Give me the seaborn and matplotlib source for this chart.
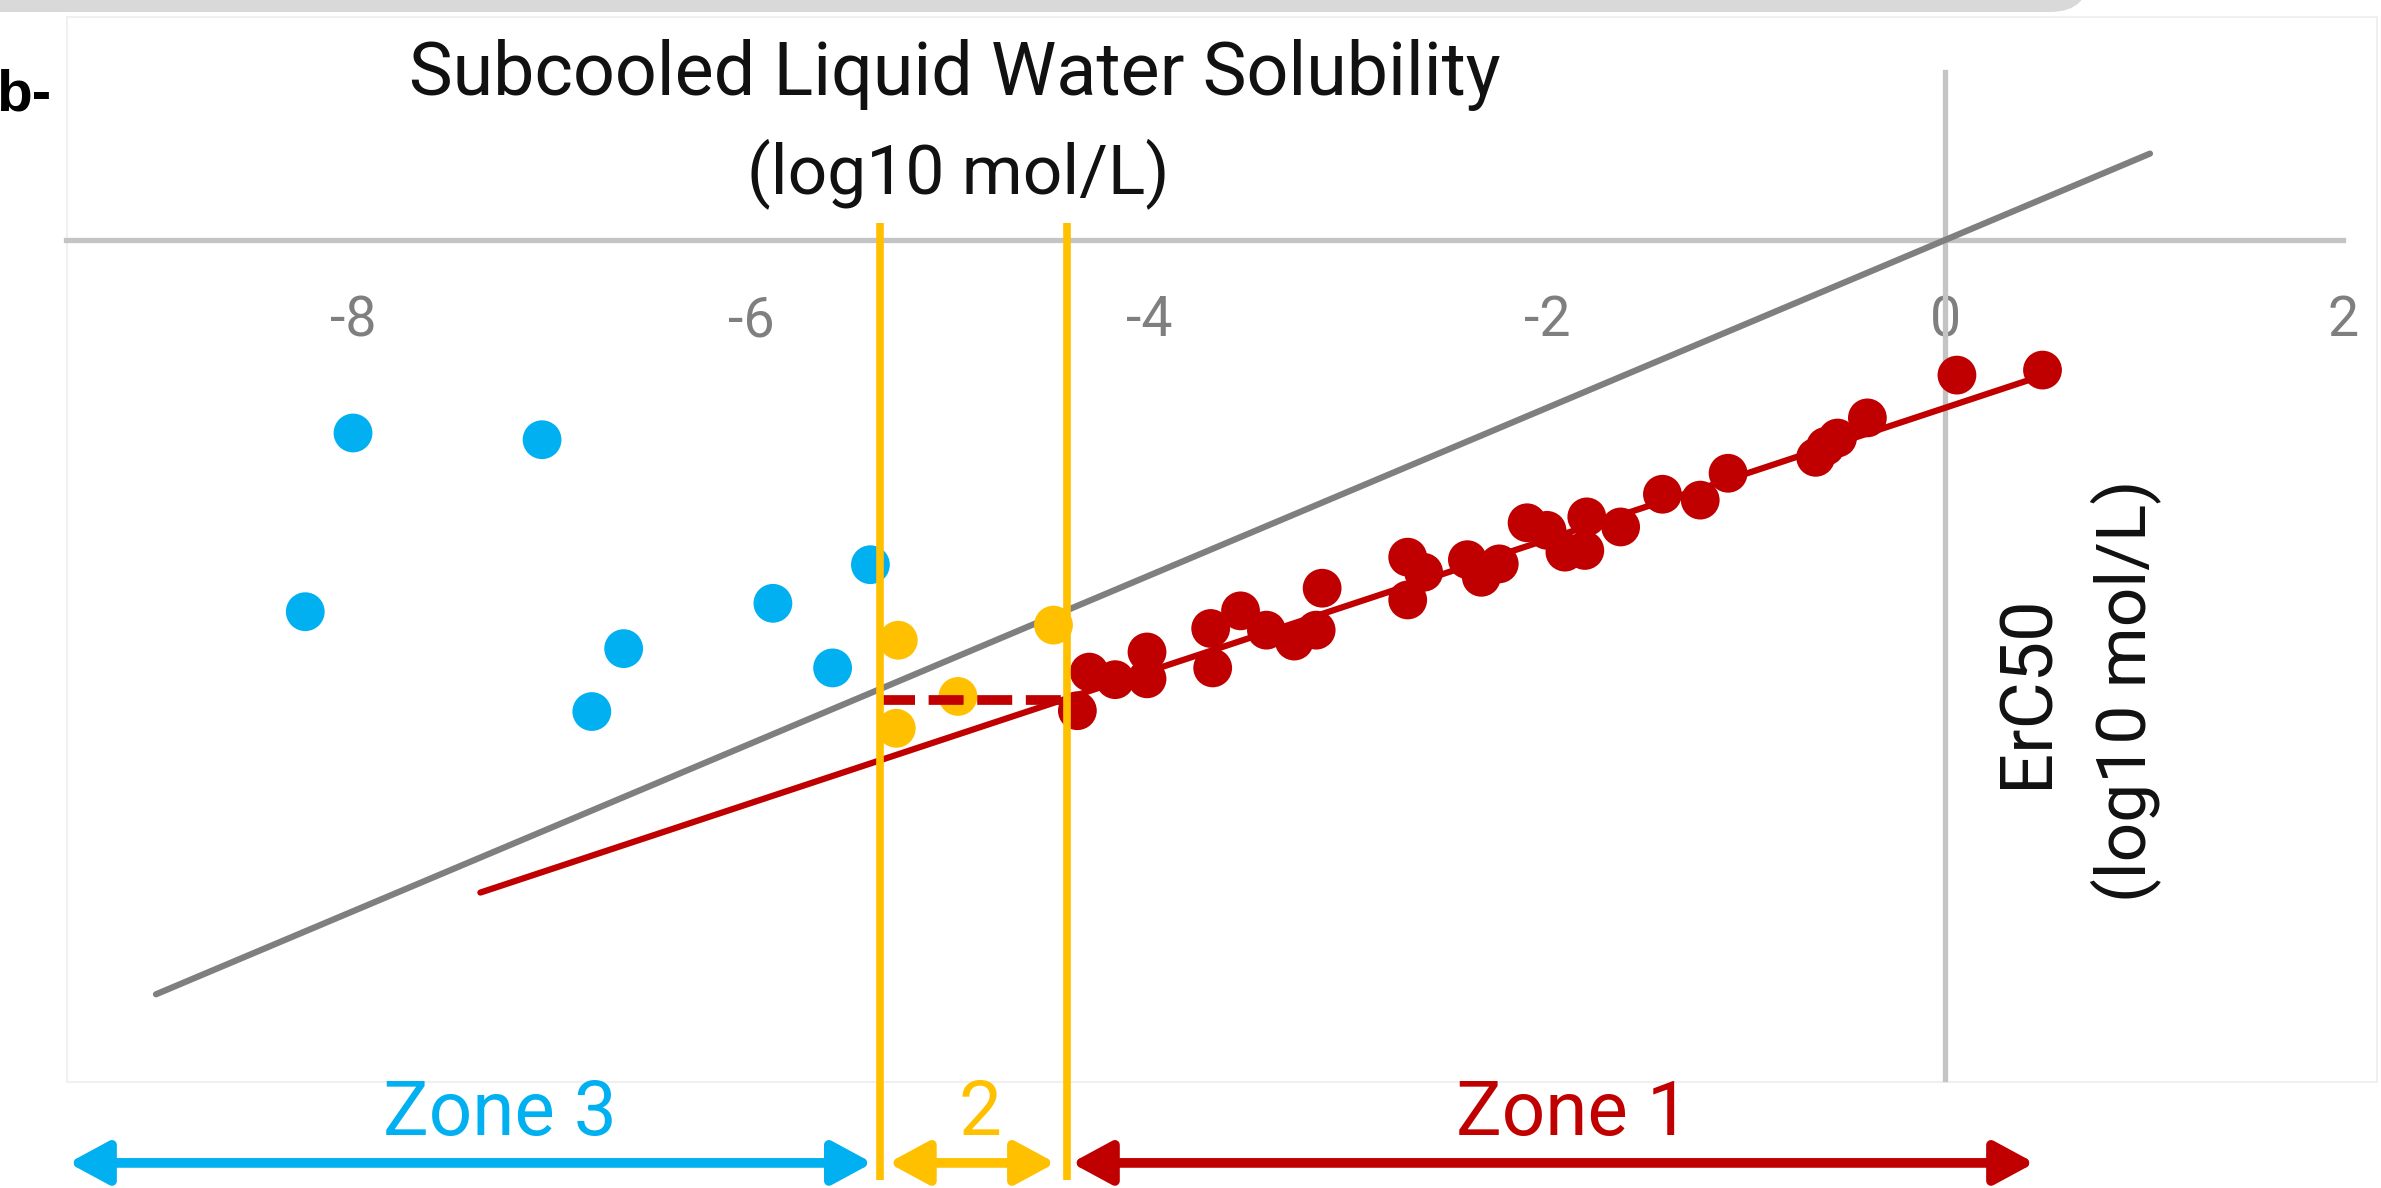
import numpy as np
import pandas as pd
import matplotlib
matplotlib.use("Agg")
import matplotlib.pyplot as plt
from matplotlib.patches import FancyBboxPatch, Rectangle
from matplotlib.transforms import IdentityTransform
import seaborn as sns

# Data (log10 mol/L)
zone3_x = [-8.00, -7.05, -8.24, -5.40, -5.89, -6.64, -5.59, -6.80]
zone3_y = [-2.30, -2.38, -4.43, -3.87, -4.33, -4.87, -5.10, -5.62]

zone2_x = [-5.26, -4.48, -4.96, -5.27]
zone2_y = [-4.77, -4.59, -5.44, -5.82]

zone1_x = [-4.36, -4.30, -4.17, -4.01, -4.01, -3.69, -3.68, -3.54, -3.41, -3.27,
           -3.16, -3.13, -2.70, -2.70, -2.62, -2.40, -2.33, -2.24, -2.10, -2.00,
           -1.91, -1.81, -1.80, -1.63, -1.42, -1.23, -1.09, -0.65, -0.60, -0.54,
           -0.39, 0.06, 0.49]
zone1_y = [-5.61, -5.15, -5.24, -4.91, -5.23, -4.63, -5.10, -4.42, -4.65, -4.78,
           -4.65, -4.15, -3.78, -4.29, -3.96, -3.81, -4.02, -3.86, -3.37, -3.46,
           -3.72, -3.70, -3.30, -3.42, -3.03, -3.10, -2.78, -2.59, -2.46, -2.36,
           -2.12, -1.61, -1.55]

# regression of zone 1 and the 1:1 line
fit_slope = 0.785
fit_intercept = -2.0
fit_x_range = [-7.36, 0.46]
one_to_one_range = [-8.99, 1.03]

# zone limits and the solubility cut-off
zone_bounds = [-5.35, -4.41]
cutoff_x = [-5.35, -4.34]
cutoff_y = -5.48

x_ticks = [-8, -6, -4, -2, 0, 2]
x_tick_labels = ["-8", "-6", "-4", "-2", "0", "2"]

zone_names = ["Zone 3", "2", "Zone 1"]
zone_colors = ["#00B0F0", "#FFC000", "#C00000"]
zone_arrow_x = [(-9.43, -5.39), (-5.31, -4.47), (-4.39, 0.45)]
zone_label_x = [-7.26, -4.85, -1.87]

sns.set_theme(style="white")
plt.rcParams["font.family"] = ["Roboto", "DejaVu Sans"]

fig = plt.figure(figsize=(23.81, 11.88), dpi=100)
ax = fig.add_axes([0, 0, 1, 1])
ax.set_xlim(-9.774, 2.191)
ax.set_ylim(-11.299, 2.861)

pts = pd.DataFrame({
    "x": zone3_x + zone2_x + zone1_x,
    "y": zone3_y + zone2_y + zone1_y,
    "zone": ["3"] * len(zone3_x) + ["2"] * len(zone2_x) + ["1"] * len(zone1_x),
})
palette = {"3": zone_colors[0], "2": zone_colors[1], "1": zone_colors[2]}

# lines
one = np.array(one_to_one_range)
sns.lineplot(x=one, y=one, color="#7F7F7F", lw=4.5, ax=ax, zorder=2)
fx = np.array(fit_x_range)
sns.lineplot(x=fx, y=fit_slope * fx + fit_intercept, color="#C00000", lw=4.5, ax=ax, zorder=2)

sns.scatterplot(data=pts, x="x", y="y", hue="zone", palette=palette, s=780,
                linewidth=0, legend=False, ax=ax, zorder=3)

ax.plot(cutoff_x, [cutoff_y, cutoff_y], color="#C00000", lw=7,
        dashes=(3.6, 1.4), dash_capstyle="butt", zorder=4)
ax.vlines(zone_bounds, -11.2, 0.2, color="#FFC000", lw=5.5, zorder=5)

# axes crossing at the origin
for side in ["top", "right"]:
    ax.spines[side].set_visible(False)
ax.spines["bottom"].set_position(("data", 0))
ax.spines["left"].set_position(("data", 0))
ax.spines["bottom"].set_bounds(-9.44, 2.0)
ax.spines["left"].set_bounds(-10, 2)
for side in ["bottom", "left"]:
    ax.spines[side].set_color("#C4C4C4")
    ax.spines[side].set_linewidth(3.8)
    ax.spines[side].set_zorder(1)
ax.set_xticks(x_ticks, x_tick_labels)
ax.set_yticks([])
ax.tick_params(axis="x", length=0, pad=39, labelsize=40, labelcolor="#7F7F7F")
ax.set_xlabel("")
ax.set_ylabel("")
ax.grid(False)

# titles
ax.text(-4.975, 1.728, "Subcooled Liquid Water Solubility", ha="center", va="baseline",
        fontsize=53, color="#111111")
ax.text(-4.96, 0.56, "(log10 mol/L)", ha="center", va="baseline", fontsize=50, color="#111111")
ax.text(0.417, -5.376, "ErC50", rotation=90, ha="center", va="center", fontsize=52, color="#111111")
ax.text(0.905, -5.376, "(log10 mol/L)", rotation=90, ha="center", va="center", fontsize=50,
        color="#111111")
ax.text(-9.518, 1.549, "b-", ha="right", va="baseline", fontsize=42, fontweight="bold",
        family=["Liberation Sans", "DejaVu Sans"], color="black")

# zone arrows below the chart
arrow_y = -11.0
for (x0, x1), c, name, lx in zip(zone_arrow_x, zone_colors, zone_names, zone_label_x):
    ax.annotate("", xy=(x1, arrow_y), xytext=(x0, arrow_y),
                arrowprops=dict(arrowstyle="<|-|>,head_length=24,head_width=13",
                                mutation_scale=1, color=c, lw=7, shrinkA=0, shrinkB=0))
    ax.text(lx, -10.667, name, color=c, fontsize=55, ha="center", va="baseline")

# faint chart frame and slide band at the top
ax.add_patch(Rectangle((-9.437, -10.036), 11.608, 12.694, fill=False,
                       ec="#F0F0F0", lw=1.5, zorder=0))
band = FancyBboxPatch((-60, 1176), 2150, 80, boxstyle="round,pad=0,rounding_size=40",
                      transform=IdentityTransform(), fc="#D9D9D9", ec="none")
fig.add_artist(band)

fig.savefig("out.png", dpi=100)
